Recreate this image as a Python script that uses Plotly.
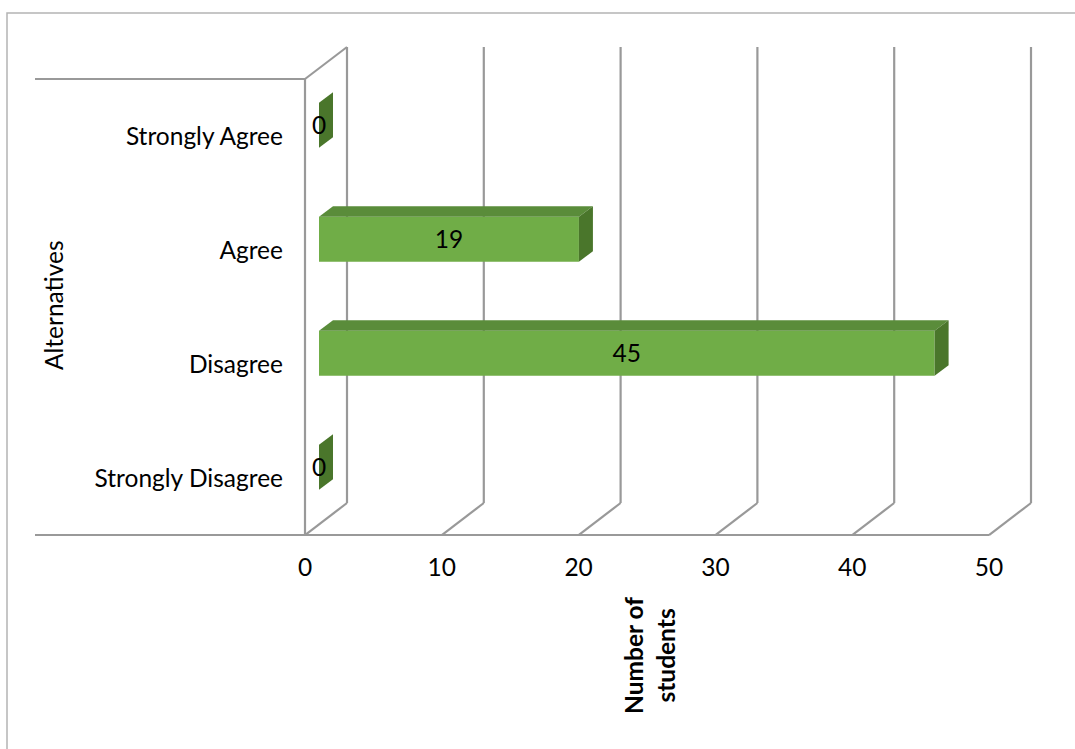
import plotly.graph_objects as go

# Survey responses
categories = ["Strongly Disagree", "Disagree", "Agree", "Strongly Agree"]
students = [0, 45, 19, 0]
value_ticks = [0, 10, 20, 30, 40, 50]

# ---- canvas / projection settings (pixels) ----
W, H = 1075, 749
PX_ZERO = 305          # pixel x of value 0 on the front plane
PX_PER_UNIT = 13.68    # pixels per student
PY_FRONT_BOTTOM = 535  # pixel y of the front floor edge
PX_PER_CAT = 114       # pixels per category band
DEPTH_PX = (42, 32)    # 3D depth offset (right, up)
BAR_PX = 45            # bar thickness

# plot-area window in pixels
LEFT_PX, RIGHT_PX, TOP_PX, BOTTOM_PX = 28, 1045, 38, 541

def vx(px):
    return (px - PX_ZERO) / PX_PER_UNIT

def vy(py):
    return (PY_FRONT_BOTTOM - py) / PX_PER_CAT - 0.5

DX = DEPTH_PX[0] / PX_PER_UNIT
DY = DEPTH_PX[1] / PX_PER_CAT
T = BAR_PX / PX_PER_CAT
n = len(categories)
y_lo, y_hi = -0.5, n - 0.5

GRID = "#999999"
FRONT = "#70AD47"
TOP = "#5A8C3A"
SIDE = "#4A762B"
FONT = "Lato"
FS = 24.5

fig = go.Figure()

# ---- walls and gridlines ----
shapes = []
def seg(x0, y0, x1, y1):
    shapes.append(dict(type="line", xref="x", yref="y", x0=x0, y0=y0, x1=x1, y1=y1,
                       line=dict(color=GRID, width=2.2), layer="below"))

for t in value_ticks:
    seg(t, y_lo, t + DX, y_lo + DY)
    seg(t + DX, y_lo + DY, t + DX, y_hi + DY)
# side wall at zero
seg(0, y_lo, 0, y_hi)
seg(0, y_hi, DX, y_hi + DY)
# category axis lines extending left
seg(vx(35), y_hi, 0, y_hi)
seg(vx(35), y_lo, value_ticks[-1], y_lo)

# outer frame
shapes.append(dict(type="rect", xref="paper", yref="paper",
                   x0=7 / W, x1=1.05, y0=-0.05, y1=(H - 13) / H,
                   line=dict(color="#B4B4B4", width=1.5), layer="below"))

# ---- bars ----
f = 1 / 3  # front face sits one third into the depth
for cat_i, v in enumerate(students):
    yc = cat_i + f * DY
    top = yc + T / 2
    bot = yc - T / 2
    x0 = f * DX
    x1 = v + f * DX
    # top face
    fig.add_trace(go.Scatter(
        x=[x0, x1, x1 + f * DX, x0 + f * DX, x0],
        y=[top, top, top + f * DY, top + f * DY, top],
        mode="lines", fill="toself", fillcolor=TOP, line=dict(width=0, color=TOP),
        hoverinfo="skip", showlegend=False))
    # right end face
    fig.add_trace(go.Scatter(
        x=[x1, x1, x1 + f * DX, x1 + f * DX, x1],
        y=[bot, top, top + f * DY, bot + f * DY, bot],
        mode="lines", fill="toself", fillcolor=SIDE, line=dict(width=0, color=SIDE),
        hoverinfo="skip", showlegend=False))

fig.add_trace(go.Bar(
    orientation="h",
    y=[i + f * DY for i in range(n)],
    x=students,
    base=f * DX,
    width=T,
    marker=dict(color=FRONT, line=dict(width=0)),
    hoverinfo="skip", showlegend=False))

# value labels centred on the front faces (nudged slightly down to sit on the optical centre)
label_drop = 3 / PX_PER_CAT
fig.add_trace(go.Scatter(
    x=[f * DX + v / 2 for v in students],
    y=[i + f * DY - label_drop for i in range(n)],
    text=[str(v) for v in students],
    mode="text", textfont=dict(family=FONT, size=FS, color="#000000"),
    hoverinfo="skip", showlegend=False))

fig.update_layout(
    width=W, height=H,
    margin=dict(l=0, r=0, t=0, b=0),
    paper_bgcolor="white", plot_bgcolor="rgba(0,0,0,0)",
    shapes=shapes,
    xaxis=dict(
        domain=[LEFT_PX / W, RIGHT_PX / W],
        range=[vx(LEFT_PX), vx(RIGHT_PX)],
        tickmode="array", tickvals=value_ticks, ticktext=[str(t) for t in value_ticks],
        showgrid=False, zeroline=False, showline=False, ticks="",
        ticklabelstandoff=9,
        tickfont=dict(family=FONT, size=FS, color="#000000"),
        anchor="y",
    ),
    yaxis=dict(
        domain=[(H - BOTTOM_PX) / H, (H - TOP_PX) / H],
        range=[vy(BOTTOM_PX), vy(TOP_PX)],
        tickmode="array", tickvals=list(range(n)), ticktext=categories,
        showgrid=False, zeroline=False, showline=False, ticks="",
        anchor="free", position=PX_ZERO / W, side="left",
        ticklabelstandoff=22,
        tickfont=dict(family=FONT, size=FS, color="#000000"),
    ),
    annotations=[
        dict(text="Alternatives", xref="paper", yref="paper",
             x=53 / W, y=(H - 305) / H, xanchor="center", yanchor="middle",
             showarrow=False, textangle=-90,
             font=dict(family=FONT, size=FS, color="#000000")),
        dict(text="<b>Number of<br>students</b>", xref="paper", yref="paper",
             x=649 / W, y=(H - 656) / H, xanchor="center", yanchor="middle",
             showarrow=False, textangle=-90,
             font=dict(family=FONT, size=FS, color="#000000")),
    ],
)

fig.write_html("out.html")
